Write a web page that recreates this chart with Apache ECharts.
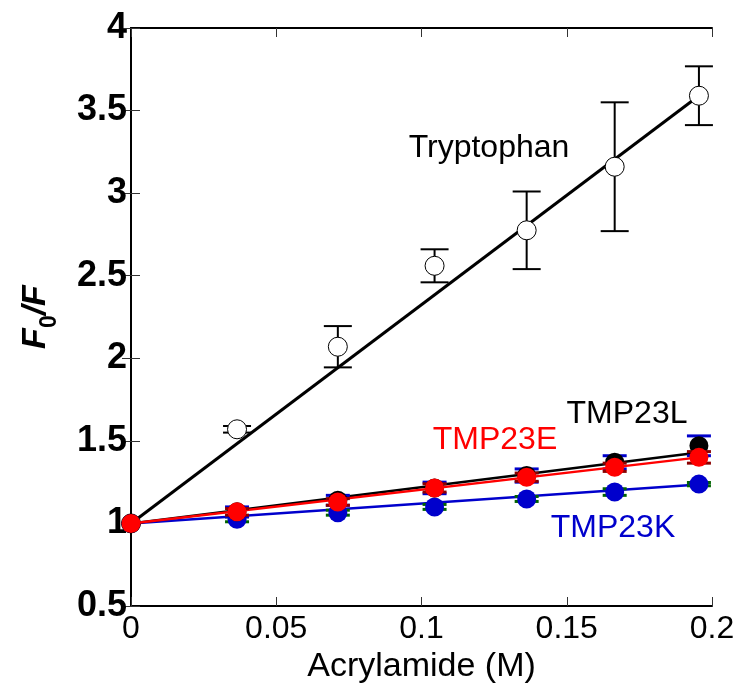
<!DOCTYPE html>
<html>
<head>
<meta charset="utf-8">
<script src="https://cdn.jsdelivr.net/npm/echarts@6/dist/echarts.min.js"></script>
<style>
  html, body { margin: 0; padding: 0; background: #ffffff; }
  #chart { width: 739px; height: 689px; }
</style>
</head>
<body>
<div id="chart"></div>
<script>
// Acrylamide concentration (M) for each titration step
const acrylamide = [0, 0.0365, 0.0712, 0.1045, 0.1362, 0.1665, 0.1955];

// F0/F ratios and their errors
const trpRatio  = [1.00, 1.57, 2.07, 2.56, 2.775, 3.16, 3.59];
const trpErr    = [0, 0.02, 0.125, 0.10, 0.235, 0.39, 0.178];
const tmpLRatio = [1.00, 1.07, 1.14, 1.215, 1.29, 1.37, 1.47];
const tmpLErr   = [0, 0.03, 0.03, 0.035, 0.04, 0.04, 0.06];
const tmpERatio = [1.00, 1.07, 1.13, 1.215, 1.28, 1.34, 1.40];
const tmpEErr   = [0, 0.02, 0.02, 0.025, 0.025, 0.025, 0.035];
const tmpKRatio = [1.00, 1.025, 1.065, 1.10, 1.148, 1.19, 1.238];
const tmpKErr   = [0, 0.015, 0.015, 0.015, 0.015, 0.02, 0.01];

// Stern–Volmer fit lines (start and end values)
const fitRange = [0, 0.1955];
const trpFit   = [1, 3.59];
const tmpLFit  = [1, 1.43];
const tmpEFit  = [1, 1.40];
const tmpKFit  = [1, 1.235];

// Axis ticks
const xTicks = [0, 0.05, 0.1, 0.15, 0.2];
const yTicks = [0.5, 1, 1.5, 2, 2.5, 3, 3.5, 4];

const FONT = '"Liberation Sans", Arial, Helvetica, sans-serif';

const pairs = (xs, ys) => xs.map((x, i) => [x, ys[i]]);

function fitLine(name, ys, color, width, z) {
  return {
    type: 'line', name, z, data: pairs(fitRange, ys),
    symbol: 'none', silent: true,
    lineStyle: { color, width }
  };
}

function errorBars(name, ratios, errs, color, capHalf, lineW, z) {
  const data = [];
  acrylamide.forEach((x, i) => {
    if (errs[i] > 0) data.push([x, ratios[i] - errs[i], ratios[i] + errs[i]]);
  });
  return {
    type: 'custom', name, z, data, silent: true,
    encode: { x: 0, y: [1, 2] },
    renderItem(params, api) {
      const lo = api.coord([api.value(0), api.value(1)]);
      const hi = api.coord([api.value(0), api.value(2)]);
      const st = { stroke: color, lineWidth: lineW };
      return {
        type: 'group',
        children: [
          { type: 'line', shape: { x1: lo[0], y1: lo[1], x2: hi[0], y2: hi[1] }, style: st },
          { type: 'line', shape: { x1: lo[0] - capHalf, y1: lo[1], x2: lo[0] + capHalf, y2: lo[1] }, style: st },
          { type: 'line', shape: { x1: hi[0] - capHalf, y1: hi[1], x2: hi[0] + capHalf, y2: hi[1] }, style: st }
        ]
      };
    }
  };
}

function points(name, ratios, fill, stroke, size, z) {
  return {
    type: 'scatter', name, z, data: pairs(acrylamide, ratios),
    symbol: 'circle', symbolSize: size, silent: true,
    itemStyle: { color: fill, borderColor: stroke, borderWidth: stroke ? 1 : 0, opacity: 1 }
  };
}

const chart = echarts.init(document.getElementById('chart'), null, { renderer: 'canvas' });

const axisLineStyle = { color: '#000', width: 2 };
const tickStyle = { color: '#333', width: 1 };

function label(text, x, y, color) {
  return {
    type: 'text', x, y,
    style: { text, fill: color, font: '32px ' + FONT, textAlign: 'center', textVerticalAlign: 'middle' }
  };
}

chart.setOption({
  backgroundColor: '#ffffff',
  animation: false,
  grid: { left: 131, top: 28, width: 581, height: 578, containLabel: false, outerBoundsMode: 'none' },
  xAxis: [
    {
      type: 'value', min: xTicks[0], max: xTicks[xTicks.length - 1], interval: 0.05,
      position: 'bottom',
      axisLine: { lineStyle: axisLineStyle },
      axisTick: { inside: true, length: 9, lineStyle: tickStyle },
      splitLine: { show: false },
      axisLabel: { color: '#000', fontFamily: FONT, fontSize: 32, margin: 7,
        formatter: v => String(+v.toFixed(2)) },
      name: 'Acrylamide (M)', nameLocation: 'middle', nameGap: 42,
      nameTextStyle: { color: '#000', fontFamily: FONT, fontSize: 34 }
    },
    {
      type: 'value', min: xTicks[0], max: xTicks[xTicks.length - 1], interval: 0.05,
      position: 'top',
      axisLine: { lineStyle: axisLineStyle },
      axisTick: { inside: true, length: 9, lineStyle: tickStyle },
      axisLabel: { show: false }, splitLine: { show: false }
    }
  ],
  yAxis: [
    {
      type: 'value', min: yTicks[0], max: yTicks[yTicks.length - 1], interval: 0.5,
      position: 'left',
      axisLine: { lineStyle: axisLineStyle },
      axisTick: { inside: true, length: 9, lineStyle: tickStyle },
      splitLine: { show: false },
      axisLabel: { color: '#000', fontFamily: FONT, fontSize: 36, fontWeight: 'bold', margin: 4 },
      name: '{f|F}{s|0}{f|/F}', nameLocation: 'middle', nameGap: 70, nameRotate: 90,
      nameTextStyle: {
        color: '#000', fontFamily: FONT,
        rich: {
          f: { fontFamily: FONT, fontSize: 34, fontWeight: 'bold', fontStyle: 'italic', color: '#000',
               verticalAlign: 'top', padding: [0, 0, 8, 0] },
          s: { fontFamily: FONT, fontSize: 23, fontWeight: 'bold', color: '#000',
               verticalAlign: 'bottom' }
        }
      }
    },
    {
      type: 'value', min: yTicks[0], max: yTicks[yTicks.length - 1], interval: 0.5,
      position: 'right',
      axisLine: { lineStyle: axisLineStyle },
      axisTick: { inside: true, length: 9, lineStyle: tickStyle },
      axisLabel: { show: false }, splitLine: { show: false }
    }
  ],
  graphic: [
    label('Tryptophan', 489, 148, '#000000'),
    label('TMP23L', 627, 414, '#000000'),
    label('TMP23E', 495, 440, '#ff0000'),
    label('TMP23K', 613, 528, '#0000cc')
  ],
  series: [
    // Tryptophan
    fitLine('Tryptophan fit', trpFit, '#000', 3, 2),
    errorBars('Tryptophan error', trpRatio, trpErr, '#000', 14, 2, 3),
    points('Tryptophan', trpRatio, '#ffffff', '#000', 19, 4),
    // TMP23K
    fitLine('TMP23K fit', tmpKFit, '#0000cc', 2.5, 5),
    errorBars('TMP23K error', tmpKRatio, tmpKErr, '#006400', 12, 3, 6),
    points('TMP23K', tmpKRatio, '#0000cc', null, 19, 7),
    // TMP23L
    fitLine('TMP23L fit', tmpLFit, '#000', 2.5, 8),
    errorBars('TMP23L error', tmpLRatio, tmpLErr, '#0000cc', 12, 3, 9),
    points('TMP23L', tmpLRatio, '#000', null, 19, 10),
    // TMP23E
    fitLine('TMP23E fit', tmpEFit, '#ff0000', 2.5, 11),
    errorBars('TMP23E error', tmpERatio, tmpEErr, '#8b0000', 12, 3, 12),
    points('TMP23E', tmpERatio, '#ff0000', null, 19, 13)
  ]
});
</script>
</body>
</html>
